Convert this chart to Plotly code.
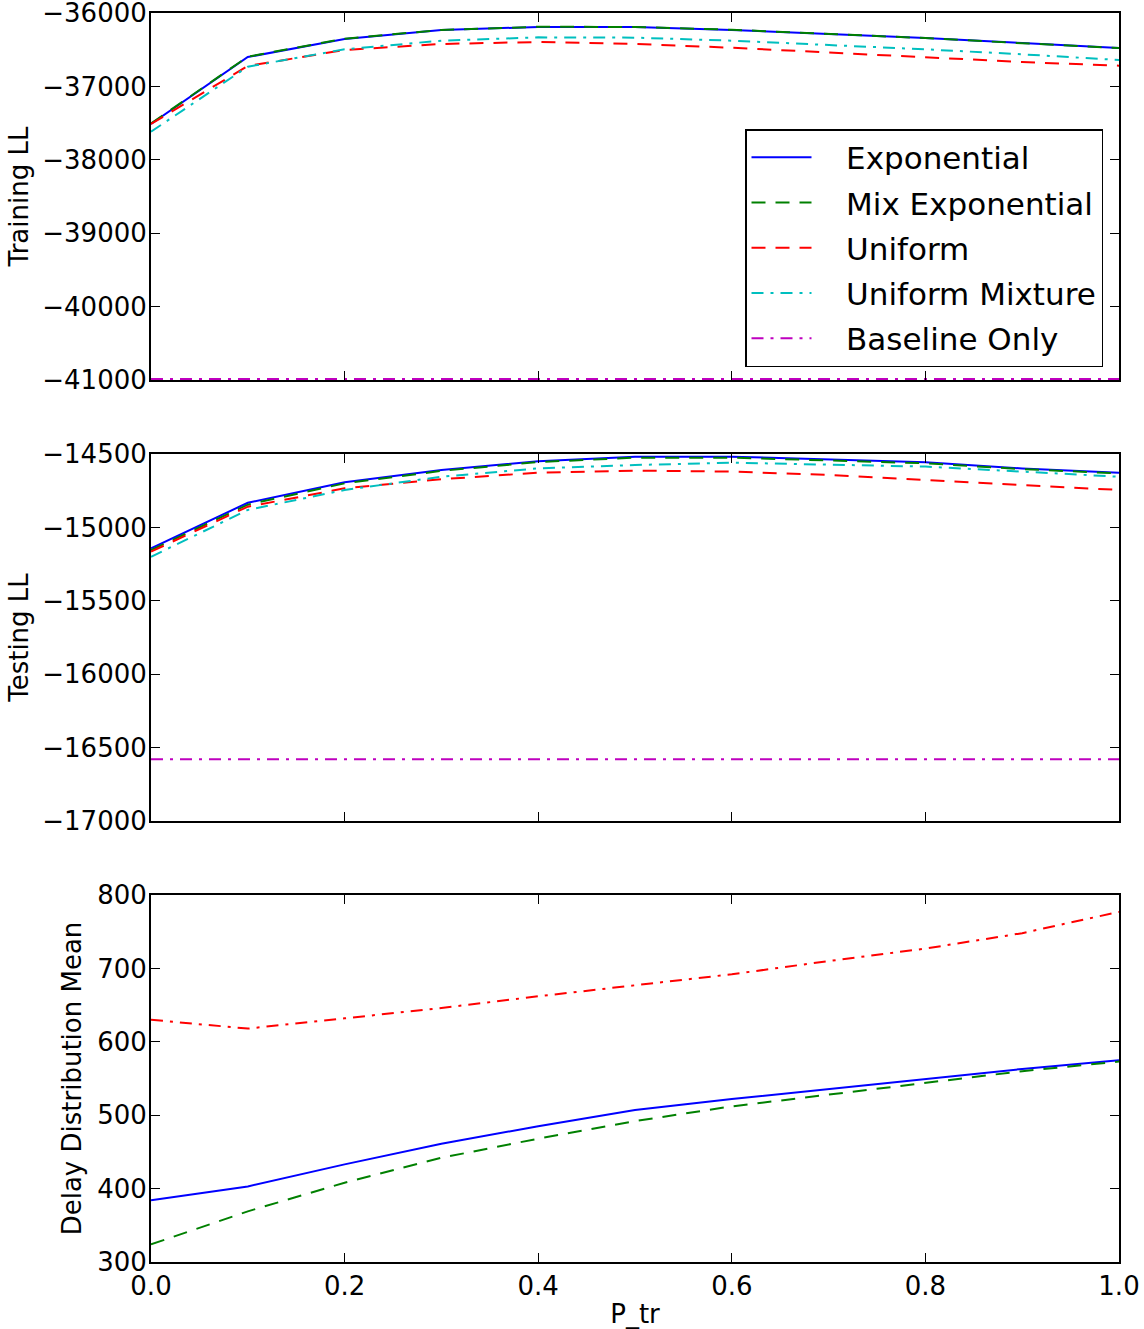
import plotly.graph_objects as go
from plotly.subplots import make_subplots

p_tr = [0.0, 0.1, 0.2, 0.3, 0.4, 0.5, 0.6, 0.7, 0.8, 0.9, 1.0]

# Training log-likelihood
train_exp = [-37512, -36600, -36354, -36232, -36190, -36190, -36230, -36286, -36340, -36410, -36477]
train_mixexp = [-37505, -36595, -36350, -36230, -36188, -36190, -36228, -36284, -36342, -36412, -36478]
train_unif = [-37512, -36722, -36504, -36422, -36395, -36422, -36473, -36540, -36600, -36668, -36718]
train_unifmix = [-37617, -36731, -36494, -36377, -36332, -36336, -36377, -36432, -36495, -36563, -36640]
train_base = [-40985] * 11

# Testing log-likelihood
test_exp = [-15142, -14832, -14693, -14609, -14550, -14518, -14518, -14537, -14557, -14598, -14627]
test_mixexp = [-15155, -14845, -14700, -14615, -14555, -14525, -14525, -14542, -14563, -14603, -14632]
test_unif = [-15165, -14859, -14734, -14672, -14627, -14613, -14620, -14643, -14677, -14711, -14745]
test_unifmix = [-15200, -14881, -14745, -14655, -14598, -14575, -14559, -14571, -14586, -14620, -14655]
test_base = [-16580] * 11

# Delay distribution mean
delay_exp = [384, 403, 433, 461, 485, 507, 522, 536, 550, 563, 575]
delay_mixexp = [324, 369, 408, 442, 468, 492, 512, 528, 545, 560, 573]
delay_unifmix = [630, 618, 632, 646, 662, 677, 692, 710, 727, 748, 777]

# Tick values
train_ticks = [-41000, -40000, -39000, -38000, -37000, -36000]
test_ticks = [-17000, -16500, -16000, -15500, -15000, -14500]
delay_ticks = [300, 400, 500, 600, 700, 800]
x_ticks = [0.0, 0.2, 0.4, 0.6, 0.8, 1.0]

names = ["Exponential", "Mix Exponential", "Uniform", "Uniform Mixture", "Baseline Only"]
colors = ["#0000ff", "#008000", "#ff0000", "#00bfbf", "#bf00bf"]
DASH = "14px,10px"
DASHDOT = "12px,7px,3px,7px"
dashes = ["solid", DASH, DASH, DASHDOT, DASHDOT]
PAD = "\u00a0\u00a0\u00a0"


def lbl(v):
    return str(v).replace("-", "\u2212")


fig = make_subplots(rows=3, cols=1, shared_xaxes=True, vertical_spacing=0.0)

train = [train_exp, train_mixexp, train_unif, train_unifmix, train_base]
test = [test_exp, test_mixexp, test_unif, test_unifmix, test_base]
for i in range(5):
    fig.add_trace(go.Scatter(x=p_tr, y=train[i], mode="lines", name=PAD + names[i],
                             legendgroup=names[i],
                             line=dict(color=colors[i], width=2, dash=dashes[i]),
                             showlegend=True), row=1, col=1)
for i in range(5):
    fig.add_trace(go.Scatter(x=p_tr, y=test[i], mode="lines", name=names[i],
                             legendgroup=names[i],
                             line=dict(color=colors[i], width=2, dash=dashes[i]),
                             showlegend=False), row=2, col=1)

fig.add_trace(go.Scatter(x=p_tr, y=delay_exp, mode="lines", name="Exponential",
                         line=dict(color="#0000ff", width=2, dash="solid"),
                         showlegend=False), row=3, col=1)
fig.add_trace(go.Scatter(x=p_tr, y=delay_mixexp, mode="lines", name="Mix Exponential",
                         line=dict(color="#008000", width=2, dash=DASH),
                         showlegend=False), row=3, col=1)
fig.add_trace(go.Scatter(x=p_tr, y=delay_unifmix, mode="lines", name="Uniform Mixture",
                         line=dict(color="#ff0000", width=2, dash=DASHDOT),
                         showlegend=False), row=3, col=1)

font = dict(family="DejaVu Sans", size=26, color="black")
axis_common = dict(showline=True, linecolor="black", linewidth=2, mirror="ticks",
                   ticks="inside", ticklen=9, tickwidth=1, tickcolor="black",
                   showgrid=False, zeroline=False, tickfont=font, automargin=False,
                   ticklabeloverflow="allow")

plot_h = 1262 - 13


def dom(top_px, bot_px):
    return [(1262 - bot_px) / plot_h, (1262 - top_px) / plot_h]


fig.update_layout(
    width=1144, height=1329,
    margin=dict(l=151, r=25, t=13, b=67),
    paper_bgcolor="white", plot_bgcolor="white",
    font=font,
    showlegend=True,
    legend=dict(x=(1103 - 151) / 968, y=(1262 - 129) / plot_h, xanchor="right", yanchor="top",
                bordercolor="black", borderwidth=1.5, bgcolor="white",
                traceorder="grouped", tracegroupgap=2, itemwidth=60,
                font=dict(family="DejaVu Sans", size=31, color="black")),
    yaxis=dict(domain=dom(13, 380), range=[-41000, -36000], tickvals=train_ticks,
               ticktext=[lbl(v) for v in train_ticks], ticklabelstandoff=-3,
               title=dict(text="Training LL", font=font, standoff=6), **axis_common),
    yaxis2=dict(domain=dom(454, 821), range=[-17000, -14500], tickvals=test_ticks,
                ticktext=[lbl(v) for v in test_ticks], ticklabelstandoff=-3,
                title=dict(text="Testing LL", font=font, standoff=6), **axis_common),
    yaxis3=dict(domain=dom(895, 1262), range=[300, 800], tickvals=delay_ticks,
                ticktext=[lbl(v) for v in delay_ticks], ticklabelstandoff=-3,
                title=dict(text="Delay Distribution Mean", font=font, standoff=8), **axis_common),
)
for ax in ["xaxis", "xaxis2", "xaxis3"]:
    fig.layout[ax].update(range=[0, 1], tickvals=x_ticks, **axis_common)
fig.layout.xaxis.update(showticklabels=False)
fig.layout.xaxis2.update(showticklabels=False)
fig.layout.xaxis3.update(showticklabels=True, ticktext=["%.1f" % v for v in x_ticks],
                         title=dict(text="P_tr", font=font, standoff=5))

fig.write_html("out.html", config={"displayModeBar": False},
               post_script="document.body.style.margin='0px';document.body.style.overflow='hidden';")
